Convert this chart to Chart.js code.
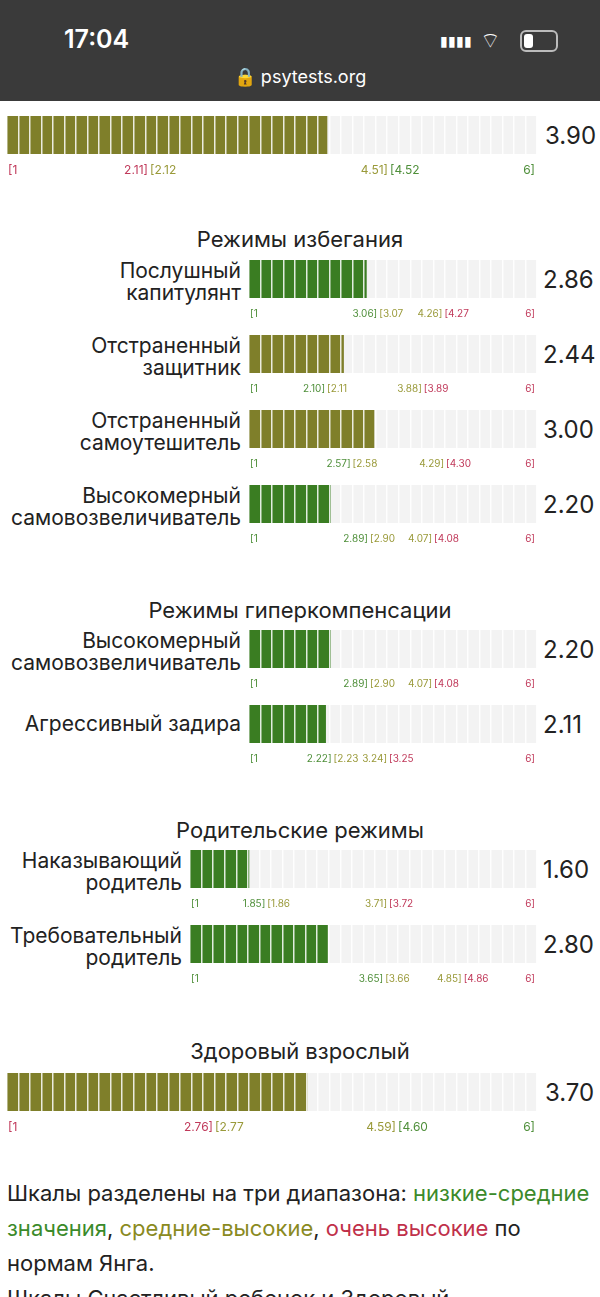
<!DOCTYPE html><html><head><meta charset="utf-8">
<script src="https://cdn.jsdelivr.net/npm/chart.js@4"></script>
<style>
body{margin:0;width:600px;height:1297px;overflow:hidden;background:#fff;font-family:Inter,"Open Sans",sans-serif;color:#222;position:relative}
.abs{position:absolute}
.lbl{position:absolute;text-align:right;font-size:21px;line-height:22px;right:359px;width:240px}
.val{position:absolute;font-size:24px}
.hd{position:absolute;left:0;width:600px;text-align:center;font-size:22px}
canvas{position:absolute}
</style></head><body>
<div class="abs" style="left:0;top:0;width:600px;height:101px;background:#3a3a3a"></div>
<div class="abs" style="left:64px;top:24px;color:#fff;font-size:25px;font-weight:600">17:04</div>
<div class="abs" style="left:0;width:600px;top:66px;text-align:center;color:#fff;font-size:18px">🔒 psytests.org</div>
<div class="abs" style="left:520px;top:30px;width:34px;height:18px;border:2px solid #bbb;border-radius:6px"><div style="margin:2px;width:9px;height:14px;background:#fff;border-radius:3px"></div></div>
<div class="abs" style="left:440px;top:32px;width:26px;height:16px;color:#fff;font-size:14px">▮▮▮▮</div>
<div class="abs" style="left:480px;top:26px;color:#fff;font-size:22px">⌔</div>
<div id="root"></div>
<div class="abs" style="left:7px;top:1176px;width:590px;font-size:22px;line-height:35px;color:#222">Шкалы разделены на три диапазона: <span style="color:#3b8a2a">низкие-средние значения</span>, <span style="color:#8a8a1f">средние-высокие</span>, <span style="color:#c0304a">очень высокие</span> по нормам Янга.<br>Шкалы Счастливый ребенок и Здоровый</div>
<script>
const headings=["Режимы избегания","Режимы гиперкомпенсации","Родительские режимы","Здоровый взрослый"];
const headingY=[226,597,817,1038];
const labels=["","Послушный\nкапитулянт","Отстраненный\nзащитник","Отстраненный\nсамоутешитель","Высокомерный\nсамовозвеличиватель","Высокомерный\nсамовозвеличиватель","Агрессивный задира","Наказывающий\nродитель","Требовательный\nродитель",""];
const values=[3.90,2.86,2.44,3.00,2.20,2.20,2.11,1.60,2.80,3.70];
const cut1=[2.11,3.06,2.10,2.57,2.89,2.89,2.22,1.85,3.65,2.76];
const cut2=[4.51,4.26,3.88,4.29,4.07,4.07,3.24,3.71,4.85,4.59];
const reversed=[true,false,false,false,false,false,false,false,false,true];
const barY=[116,260,335,410,485,630,705,850,925,1073];
const barX=[7,249,249,249,249,249,249,190,190,7];
const RED="#c0395a",OLV="#9a9a3a",GRN="#4f8f3a";
const OLIVE="#7f7f2a",GREEN="#3a7d22";
const root=document.getElementById('root');
headings.forEach((h,i)=>{const d=document.createElement('div');d.className='hd';d.style.top=headingY[i]+'px';d.textContent=h;root.appendChild(d);});
values.forEach((v,i)=>{
  const x0=barX[i],w=537-x0,small=w<400;
  if(labels[i]){const l=document.createElement('div');l.className='lbl';l.style.right=(600-x0+8)+'px';l.style.top=(barY[i]+(labels[i].includes('\n')?0:8))+'px';l.innerHTML=labels[i].replace('\n','<br>');root.appendChild(l);}
  const vd=document.createElement('div');vd.className='val';vd.style.left=(x0==7?545:543)+'px';vd.style.top=(barY[i]+5)+'px';vd.textContent=v.toFixed(2);root.appendChild(vd);
  const c=document.createElement('canvas');c.style.left=x0+'px';c.style.top=barY[i]+'px';c.style.width=w+'px';c.style.height='66px';c.width=w;c.height=66;root.appendChild(c);
  const cols=reversed[i]?[RED,OLV,GRN]:[GRN,OLV,RED];
  const fill=(v<=cut1[i])?(reversed[i]?OLIVE:GREEN):(v<=cut2[i]?OLIVE:(reversed[i]?GREEN:OLIVE));
  const fs=small?10:12;
  const rng={id:'rng',afterDraw(ch){const g=ch.ctx,s=ch.scales.x,y=54;g.save();g.font=fs+'px Inter,sans-serif';g.textBaseline='middle';
    g.textAlign='left';g.fillStyle=cols[0];g.fillText('[1',1,y);
    g.textAlign='right';g.fillStyle=cols[2];g.fillText('6]',w-2,y);
    [[cut1[i],0],[cut2[i],1]].forEach(([c,k])=>{const p=s.getPixelForValue(c);g.textAlign='right';g.fillStyle=cols[k];g.fillText(c.toFixed(2)+']',p,y);g.textAlign='left';g.fillStyle=cols[k+1];g.fillText('['+(c+0.01).toFixed(2),p+2,y);});
    g.restore();}};
  new Chart(c,{type:'bar',data:{labels:[''],datasets:[{data:[v],backgroundColor:fill,grouped:false,barPercentage:1,categoryPercentage:1},{data:[6],backgroundColor:'#f3f3f3',grouped:false,barPercentage:1,categoryPercentage:1}]},
   options:{indexAxis:'y',responsive:false,animation:false,layout:{padding:{bottom:28}},plugins:{legend:{display:false},tooltip:{enabled:false}},
   scales:{y:{display:false},x:{display:true,min:0.7,max:6,border:{display:false},ticks:{display:false,count:Math.round(w/11.5)+1},grid:{z:1,color:'rgba(255,255,255,0.85)',lineWidth:1.5,drawTicks:false}}}},plugins:[rng]});
});
</script></body></html>
